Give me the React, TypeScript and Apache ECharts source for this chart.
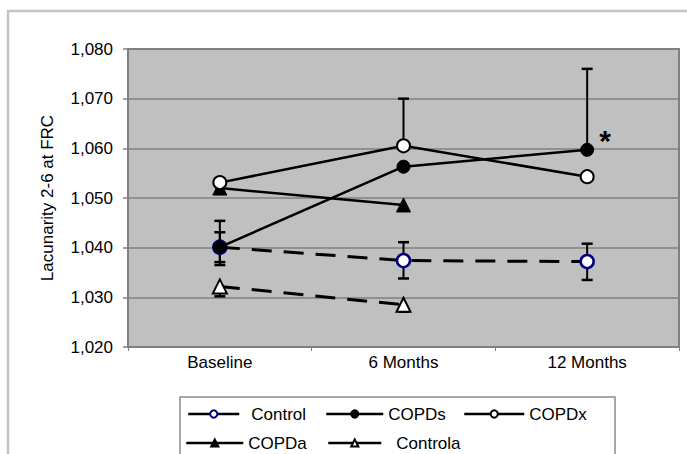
import React, { useEffect, useRef } from "react";
import * as echarts from "echarts";

// Time points on the category axis
const categories = ["Baseline", "6 Months", "12 Months"];

// Mean lacunarity per group (null = not measured)
const controlValues = [1.0401, 1.0374, 1.0372];
const copdsValues = [1.0401, 1.0563, 1.0597];
const copdxValues = [1.0531, 1.0605, 1.0543];
const copdaValues = [1.052, 1.0486, null];
const controlaValues = [1.0322, 1.0285, null];

// Error bar ends (upper / lower), null where no bar is drawn
const controlHigh = [1.0431, 1.0411, 1.0408];
const controlLow = [1.0371, 1.0338, 1.0335];
const copdsHigh = [1.0454, null, 1.076];
const copdsLow = [1.0365, null, null];
const copdxHigh = [null, 1.07, null];
const controlaLow = [1.0302, 1.0271, null];

// Y-axis range and step
const yMin = 1.02;
const yMax = 1.08;
const yStep = 0.01;

const FONT = "'Liberation Sans', Arial, sans-serif";

function errorItems(values: (number | null)[], bounds: (number | null)[]) {
  const out: number[][] = [];
  values.forEach((v, i) => {
    const b = bounds[i];
    if (v != null && b != null) out.push([i, v, b]);
  });
  return out;
}

export default function App() {
  const ref = useRef<HTMLDivElement>(null);

  useEffect(() => {
    if (!ref.current) return;
    const chart = echarts.init(ref.current, null, { renderer: "svg" });

    const errData = [
      ...errorItems(controlValues, controlHigh),
      ...errorItems(controlValues, controlLow),
      ...errorItems(copdsValues, copdsHigh),
      ...errorItems(copdsValues, copdsLow),
      ...errorItems(copdxValues, copdxHigh),
      ...errorItems(controlaValues, controlaLow),
    ];

    const legendText = { fontSize: 17, color: "#000", fontFamily: FONT };
    const legendBase = {
      orient: "horizontal",
      padding: 0,
      itemHeight: 9,
      selectedMode: false,
      textStyle: legendText,
      lineStyle: { type: "solid", width: 2.5, color: "#000" },
    };

    const solid = { color: "#000", width: 2.5, type: "solid" };
    const dashed = { color: "#000", width: 3, type: [20, 12] };

    chart.setOption({
      animation: false,
      backgroundColor: "#fff",
      graphic: [
        {
          type: "rect",
          z: -10,
          shape: { x: 8, y: 11, width: 720, height: 500 },
          style: { fill: "none", stroke: "#c4c4c4", lineWidth: 2.5 },
        },
        {
          type: "rect",
          z: -5,
          shape: { x: 180, y: 397, width: 435, height: 80 },
          style: { fill: "#fff", stroke: "#8c8c8c", lineWidth: 1.5 },
        },
      ],
      legend: [
        { ...legendBase, data: ["Control"], left: 187, top: 405.5, itemWidth: 51, textStyle: { ...legendText, padding: [0, 0, 0, 7] } },
        { ...legendBase, data: ["COPDs"], left: 325, top: 405.5, itemWidth: 57 },
        { ...legendBase, data: ["COPDx"], left: 463, top: 405.5, itemWidth: 60 },
        { ...legendBase, data: ["COPDa"], left: 185, top: 434.5, itemWidth: 57 },
        { ...legendBase, data: ["Controla"], left: 327, top: 434.5, itemWidth: 53, textStyle: { ...legendText, padding: [0, 0, 0, 10] } },
      ],
      grid: {
        left: 128,
        top: 49,
        right: 8,
        bottom: 107,
        show: true,
        backgroundColor: "#c0c0c0",
        borderColor: "#808080",
        borderWidth: 2,
      },
      xAxis: {
        type: "category",
        data: categories,
        boundaryGap: true,
        axisLine: { lineStyle: { color: "#808080", width: 2 } },
        axisTick: { show: true, length: 4, lineStyle: { color: "#808080", width: 1 } },
        axisLabel: { color: "#000", fontSize: 17, fontFamily: FONT, margin: 7 },
        splitLine: { show: false },
      },
      yAxis: {
        type: "value",
        min: yMin,
        max: yMax,
        interval: yStep,
        name: "Lacunarity 2-6 at FRC",
        nameLocation: "middle",
        nameRotate: 90,
        nameGap: 72,
        nameTextStyle: { color: "#000", fontSize: 17, fontFamily: FONT },
        axisLine: { show: true, lineStyle: { color: "#808080", width: 2 } },
        axisTick: { show: true, length: 5, lineStyle: { color: "#808080", width: 1.5 } },
        axisLabel: {
          color: "#000",
          fontSize: 17,
          fontFamily: FONT,
          margin: 15,
          formatter: (v: number) => v.toFixed(3).replace(".", ","),
        },
        splitLine: { show: true, lineStyle: { color: "#808080", width: 1.5 } },
      },
      series: [
        {
          type: "custom",
          name: "errors",
          z: 1,
          data: errData,
          encode: { x: 0, y: [1, 2] },
          renderItem: (_params: any, api: any) => {
            const x = api.value(0);
            const p0 = api.coord([x, api.value(1)]);
            const p1 = api.coord([x, api.value(2)]);
            const hw = 5.5;
            return {
              type: "group",
              children: [
                {
                  type: "line",
                  shape: { x1: p0[0], y1: p0[1], x2: p1[0], y2: p1[1] },
                  style: { stroke: "#000", lineWidth: 2 },
                },
                {
                  type: "line",
                  shape: { x1: p1[0] - hw, y1: p1[1], x2: p1[0] + hw, y2: p1[1] },
                  style: { stroke: "#000", lineWidth: 2.5 },
                },
              ],
            };
          },
        },
        {
          type: "line",
          name: "Control",
          z: 3,
          data: controlValues,
          symbol: "circle",
          symbolSize: 13,
          showAllSymbol: true,
          lineStyle: dashed,
          itemStyle: { color: "#fff", borderColor: "#000080", borderWidth: 2.5 },
        },
        {
          type: "line",
          name: "COPDs",
          z: 4,
          data: copdsValues.map((v, i) =>
            i === 2
              ? {
                  value: v,
                  label: {
                    show: true,
                    formatter: "*",
                    position: "right",
                    offset: [0, -9],
                    fontSize: 30,
                    fontWeight: "bold",
                    fontFamily: FONT,
                    color: "#000",
                  },
                }
              : v
          ),
          symbol: "circle",
          symbolSize: 13,
          lineStyle: solid,
          itemStyle: { color: "#000", borderColor: "#000", borderWidth: 1 },
        },
        {
          type: "line",
          name: "COPDx",
          z: 4,
          data: copdxValues,
          symbol: "circle",
          symbolSize: 13,
          lineStyle: solid,
          itemStyle: { color: "#fff", borderColor: "#000", borderWidth: 2 },
        },
        {
          type: "line",
          name: "COPDa",
          z: 3,
          data: copdaValues,
          symbol: "triangle",
          symbolSize: 14,
          lineStyle: solid,
          itemStyle: { color: "#000", borderColor: "#000", borderWidth: 1 },
        },
        {
          type: "line",
          name: "Controla",
          z: 3,
          data: controlaValues,
          symbol: "triangle",
          symbolSize: 14,
          lineStyle: dashed,
          itemStyle: { color: "#fff", borderColor: "#000", borderWidth: 2 },
        },
      ],
    });

    return () => chart.dispose();
  }, []);

  return (
    <div
      ref={ref}
      style={{ position: "fixed", left: 0, top: 0, width: 687, height: 454, background: "#fff" }}
    />
  );
}
